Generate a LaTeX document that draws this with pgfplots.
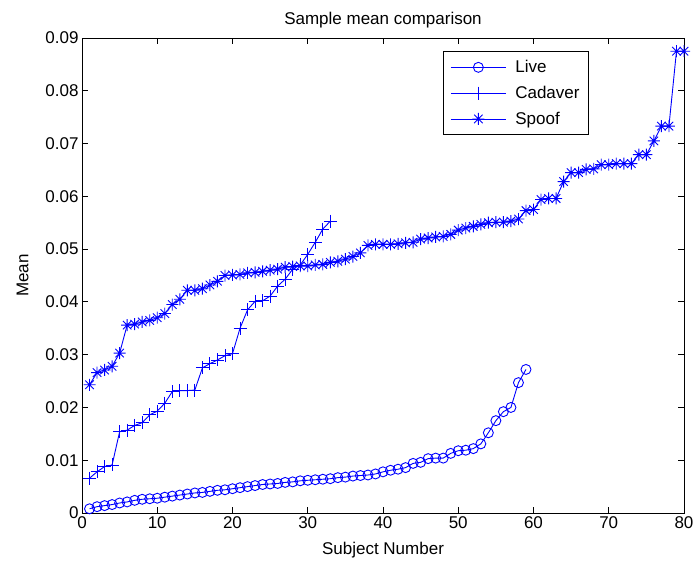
\documentclass[border=0pt]{standalone}
\usepackage{fontspec}
\setmainfont{Liberation Sans}
\usepackage{pgfplots}
\pgfplotsset{compat=1.18}

% MATLAB-style '*' marker: a plus and a cross on top of each other
\pgfdeclareplotmark{mstar}{%
  \pgfpathmoveto{\pgfqpoint{-\pgfplotmarksize}{0pt}}%
  \pgfpathlineto{\pgfqpoint{\pgfplotmarksize}{0pt}}%
  \pgfpathmoveto{\pgfqpoint{0pt}{-\pgfplotmarksize}}%
  \pgfpathlineto{\pgfqpoint{0pt}{\pgfplotmarksize}}%
  \pgfpathmoveto{\pgfqpoint{-.707\pgfplotmarksize}{-.707\pgfplotmarksize}}%
  \pgfpathlineto{\pgfqpoint{.707\pgfplotmarksize}{.707\pgfplotmarksize}}%
  \pgfpathmoveto{\pgfqpoint{-.707\pgfplotmarksize}{.707\pgfplotmarksize}}%
  \pgfpathlineto{\pgfqpoint{.707\pgfplotmarksize}{-.707\pgfplotmarksize}}%
  \pgfusepathqstroke}

\definecolor{mblue}{rgb}{0,0,1}

\begin{document}
\begin{tikzpicture}
\useasboundingbox (-82pt,-53pt) rectangle (613pt,513pt);
\begin{axis}[
    at={(0,0)}, anchor=south west,
    scale only axis,
    width=602pt, height=475pt,
    xmin=0, xmax=80, ymin=0, ymax=0.09,
    xtick={0,10,...,80},
    ytick={0,0.01,0.02,0.03,0.04,0.05,0.06,0.07,0.08,0.09},
    yticklabels={0,0.01,0.02,0.03,0.04,0.05,0.06,0.07,0.08,0.09},
    scaled y ticks=false,
    tick align=inside,
    major tick length=6pt,
    tick style={black, line width=0.8pt},
    axis line style={black, line width=0.8pt},
    /pgf/number format/assume math mode=true,
    font=\fontsize{17}{20}\selectfont,
    ticklabel style={font=\fontsize{17}{20}\selectfont},
    title={Sample mean comparison},
    xlabel={Subject Number},
    ylabel={Mean},
    xlabel shift=7pt,
    ylabel shift=10pt,
    legend image code/.code={%
        \draw[mblue, line width=0.9pt, mark repeat=2, mark phase=2]
            plot coordinates {(0pt,0pt) (27.5pt,0pt) (55pt,0pt)};
        \path (62pt,0pt);},
    legend cell align=left,
    legend style={at={(0.5997,0.9726)}, anchor=north west,
        draw=black, line width=0.8pt, fill=white,
        inner xsep=7pt, inner ysep=7pt, row sep=8pt,
        font=\fontsize{17}{20}\selectfont},
]
% Live
\addplot[mblue, line width=0.9pt, mark=o, mark size=5pt, mark options={solid, mblue}] coordinates {
(1,0.0008) (2,0.0012) (3,0.0014) (4,0.0016) (5,0.0019) (6,0.0021) (7,0.0024) (8,0.0026)
(9,0.0027) (10,0.0028) (11,0.0030) (12,0.0032) (13,0.0034) (14,0.0036) (15,0.0038)
(16,0.0039) (17,0.0041) (18,0.0043) (19,0.0044) (20,0.0046) (21,0.0048) (22,0.0050)
(23,0.0052) (24,0.0054) (25,0.0055) (26,0.0056) (27,0.0058) (28,0.0059) (29,0.0061)
(30,0.0062) (31,0.0063) (32,0.0064) (33,0.0065) (34,0.0067) (35,0.0068) (36,0.0070)
(37,0.0071) (38,0.0072) (39,0.0074) (40,0.0078) (41,0.0081) (42,0.0083) (43,0.0086)
(44,0.0094) (45,0.0096) (46,0.0103) (47,0.0104) (48,0.0104) (49,0.0113) (50,0.0118)
(51,0.0119) (52,0.0122) (53,0.0131) (54,0.0152) (55,0.0175) (56,0.0192) (57,0.0200)
(58,0.0247) (59,0.0272)
};
% Cadaver
\addplot[mblue, line width=0.9pt, mark=+, mark size=6.5pt, mark options={solid, mblue}] coordinates {
(1,0.0066) (2,0.0078) (3,0.0088) (4,0.0091) (5,0.0154) (6,0.0157) (7,0.0166) (8,0.0171)
(9,0.0186) (10,0.0193) (11,0.0208) (12,0.0230) (13,0.0232) (14,0.0232) (15,0.0233)
(16,0.0275) (17,0.0283) (18,0.0290) (19,0.0298) (20,0.0302) (21,0.0350) (22,0.0385)
(23,0.0401) (24,0.0402) (25,0.0411) (26,0.0430) (27,0.0443) (28,0.0462) (29,0.0470)
(30,0.0490) (31,0.0513) (32,0.0538) (33,0.0553)
};
% Spoof
\addplot[mblue, line width=0.9pt, mark=mstar, mark size=6pt, mark options={solid, mblue}] coordinates {
(1,0.0243) (2,0.0266) (3,0.0271) (4,0.0278) (5,0.0303) (6,0.0356) (7,0.0358) (8,0.0362)
(9,0.0365) (10,0.0370) (11,0.0378) (12,0.0395) (13,0.0405) (14,0.0422) (15,0.0422)
(16,0.0425) (17,0.0432) (18,0.0439) (19,0.0450) (20,0.0451) (21,0.0452) (22,0.0455)
(23,0.0456) (24,0.0458) (25,0.0460) (26,0.0462) (27,0.0466) (28,0.0467) (29,0.0468)
(30,0.0468) (31,0.0470) (32,0.0471) (33,0.0475) (34,0.0477) (35,0.0481) (36,0.0486)
(37,0.0493) (38,0.0507) (39,0.0509) (40,0.0509) (41,0.0509) (42,0.0510) (43,0.0512)
(44,0.0513) (45,0.0519) (46,0.0521) (47,0.0523) (48,0.0524) (49,0.0528) (50,0.0536)
(51,0.0540) (52,0.0543) (53,0.0547) (54,0.0550) (55,0.0551) (56,0.0551) (57,0.0553)
(58,0.0557) (59,0.0573) (60,0.0575) (61,0.0594) (62,0.0596) (63,0.0596) (64,0.0628)
(65,0.0645) (66,0.0645) (67,0.0651) (68,0.0652) (69,0.0660) (70,0.0660) (71,0.0662)
(72,0.0662) (73,0.0662) (74,0.0679) (75,0.0679) (76,0.0705) (77,0.0733) (78,0.0733)
(79,0.0875) (80,0.0875)
};
\legend{Live, Cadaver, Spoof}
\end{axis}
\end{tikzpicture}
\end{document}
